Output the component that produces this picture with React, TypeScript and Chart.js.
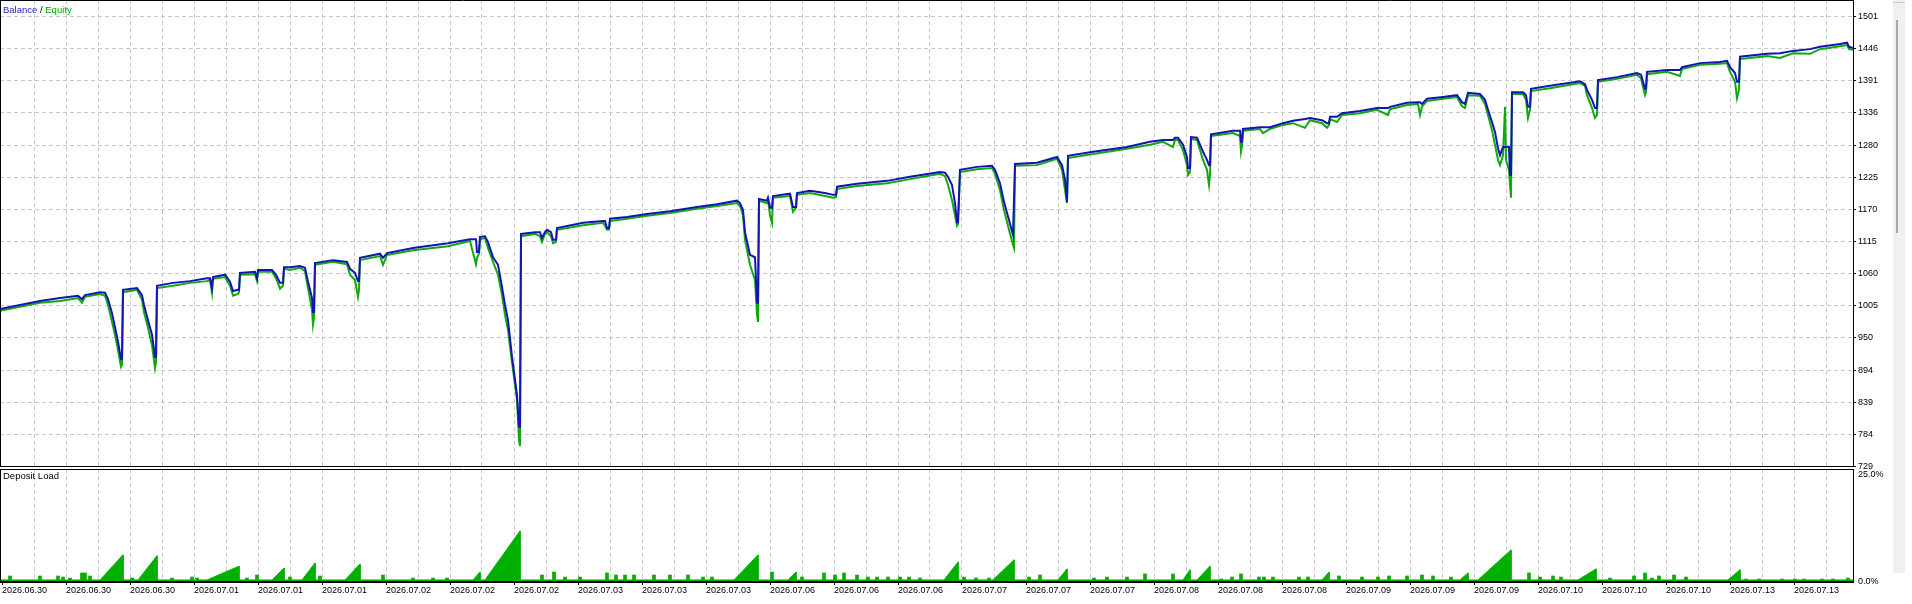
import React, { useEffect, useRef } from 'react';
import { Chart, registerables } from 'chart.js';

Chart.register(...registerables);

const FONT = '"Liberation Sans", Arial, sans-serif';
const BLUE = '#1414b4';
const GREEN = '#10aa10';
const LOAD_GREEN = '#00b000';
const GRID = '#c8c8c8';

// x axis: hours since start, one date label every 8 hours
const dateLabels = [
  '2026.06.30', '2026.06.30', '2026.06.30',
  '2026.07.01', '2026.07.01', '2026.07.01',
  '2026.07.02', '2026.07.02', '2026.07.02',
  '2026.07.03', '2026.07.03', '2026.07.03',
  '2026.07.06', '2026.07.06', '2026.07.06',
  '2026.07.07', '2026.07.07', '2026.07.07',
  '2026.07.08', '2026.07.08', '2026.07.08',
  '2026.07.09', '2026.07.09', '2026.07.09',
  '2026.07.10', '2026.07.10', '2026.07.10',
  '2026.07.13', '2026.07.13',
];
const HOURS_PER_LABEL = 8;

const yTickLabels = ['729', '784', '839', '894', '950', '1005', '1060', '1115', '1170', '1225', '1280', '1336', '1391', '1446', '1501'];
const loadTickValues = [0, 25];
const loadTickLabels = ['0.0%', '25.0%'];

const timeH = [
  -0.25, 2.25, 4.75, 7.25, 9.5, 10, 10.375, 12.25, 12.875, 13.25,
  13.75, 14.125, 14.5, 14.875, 15, 15.125, 16.875, 17.5, 17.75, 18.25,
  18.75, 19.125, 19.25, 19.375, 21.375, 23.5, 25.625, 26, 26.25, 26.375,
  27.875, 28.5, 28.875, 29.5, 29.625, 29.75, 31.625, 31.875, 32, 33.75,
  34.25, 34.75, 35.125, 35.25, 36, 37.25, 37.875, 38.25, 38.75, 38.875,
  39, 39.125, 41.375, 43.125, 43.5, 44.125, 44.5, 44.625, 44.75, 47.25,
  47.625, 48.125, 51.375, 55.75, 58.5, 59.25, 59.375, 59.625, 59.75, 60.375,
  60.75, 61.375, 62, 62.5, 62.875, 63.25, 63.75, 64.375, 64.625, 64.75,
  64.875, 66.625, 67.25, 67.5, 67.875, 68.125, 68.625, 68.875, 69.25, 69.375,
  72.625, 75.125, 75.375, 75.625, 75.875, 76, 78.125, 80.625, 83.5, 86.875,
  89.375, 91.875, 92.25, 92.625, 92.875, 93.5, 94.125, 94.375, 94.5, 94.625,
  95.625, 95.75, 96, 96.25, 96.375, 98.5, 98.875, 99.25, 99.375, 101,
  102.875, 103.875, 104.25, 104.375, 106.875, 110.625, 113.5, 117.25, 117.875, 118.25,
  118.75, 119.125, 119.375, 119.5, 119.75, 121.875, 123.75, 124.125, 124.75, 125.25,
  125.875, 126.375, 126.5, 126.625, 129.375, 131.875, 132.5, 132.875, 133.125, 133.25,
  136.375, 140.625, 143.5, 145.125, 146.375, 146.625, 147, 147.625, 148.125, 148.25,
  148.5, 148.625, 149.375, 149.75, 150.125, 150.625, 150.875, 151, 151.125, 153.875,
  154.75, 154.875, 155, 155.125, 157.25, 157.625, 158.5, 160.125, 161.375, 162.875,
  163.5, 165, 165.625, 165.875, 166, 166.875, 167.5, 169.75, 171.875, 173.25,
  173.5, 175.625, 177, 177.25, 177.5, 178.125, 180.125, 181.875, 182.5, 182.875,
  183.25, 184.75, 185.375, 185.75, 186.25, 186.625, 187, 187.25, 187.625, 187.875,
  188, 188.375, 188.5, 188.625, 188.75, 190.125, 190.5, 190.75, 191, 191.125,
  193.5, 197.25, 197.875, 198.125, 198.75, 199.125, 199.375, 199.5, 201.875, 204.375,
  204.875, 205.375, 205.5, 205.625, 208.125, 209.75, 210, 212.25, 214.75, 215.625,
  216, 216.625, 216.875, 217.125, 217.25, 220.625, 222.25, 223.875, 226, 227.25,
  229.75, 230.625, 230.875, 231.375,
];

const balance = [
  999, 1006, 1013, 1018, 1022, 1016, 1023, 1028, 1027, 1016,
  992, 968, 943, 913, 913, 1032, 1035, 1023, 1006, 980,
  955, 917, 917, 1039, 1044, 1047, 1052, 1052, 1035, 1054,
  1058, 1046, 1030, 1032, 1032, 1061, 1063, 1052, 1066, 1066,
  1058, 1044, 1044, 1071, 1071, 1073, 1070, 1046, 1018, 994,
  994, 1078, 1083, 1080, 1068, 1061, 1047, 1047, 1087, 1094,
  1087, 1095, 1104, 1112, 1119, 1119, 1097, 1097, 1123, 1124,
  1114, 1088, 1075, 1037, 1006, 980, 917, 852, 797, 797,
  1128, 1131, 1131, 1121, 1131, 1135, 1131, 1118, 1118, 1138,
  1147, 1150, 1150, 1138, 1138, 1154, 1157, 1162, 1167, 1174,
  1179, 1185, 1181, 1169, 1131, 1092, 1088, 1010, 1010, 1188,
  1185, 1190, 1173, 1173, 1193, 1197, 1174, 1174, 1198, 1202,
  1198, 1195, 1195, 1209, 1214, 1219, 1226, 1234, 1233, 1226,
  1212, 1181, 1148, 1148, 1238, 1243, 1245, 1238, 1215, 1183,
  1152, 1126, 1126, 1248, 1250, 1260, 1246, 1221, 1183, 1262,
  1269, 1277, 1286, 1289, 1289, 1293, 1293, 1281, 1260, 1241,
  1241, 1294, 1293, 1281, 1269, 1255, 1246, 1246, 1299, 1305,
  1305, 1286, 1286, 1308, 1311, 1311, 1311, 1318, 1322, 1325,
  1327, 1323, 1318, 1318, 1329, 1329, 1335, 1339, 1344, 1344,
  1346, 1353, 1354, 1354, 1351, 1360, 1363, 1366, 1354, 1351,
  1370, 1368, 1358, 1341, 1320, 1303, 1275, 1263, 1277, 1277,
  1277, 1277, 1229, 1229, 1371, 1371, 1366, 1346, 1346, 1377,
  1382, 1390, 1385, 1375, 1358, 1344, 1344, 1392, 1397, 1404,
  1401, 1377, 1377, 1406, 1409, 1409, 1414, 1421, 1423, 1425,
  1414, 1404, 1389, 1389, 1432, 1437, 1438, 1442, 1445, 1449,
  1454, 1456, 1449, 1447,
];

const equity = [
  996, 1003, 1010, 1013, 1018, 1010, 1020, 1025, 1022, 1006,
  977, 955, 929, 900, 903, 1028, 1032, 1015, 994, 967,
  937, 898, 908, 1035, 1039, 1044, 1047, 1049, 1027, 1051,
  1054, 1039, 1022, 1025, 1028, 1058, 1059, 1047, 1063, 1063,
  1052, 1034, 1039, 1068, 1066, 1070, 1064, 1035, 998, 972,
  984, 1075, 1080, 1076, 1058, 1049, 1020, 1032, 1083, 1090,
  1075, 1092, 1100, 1107, 1116, 1076, 1087, 1094, 1119, 1121,
  1104, 1080, 1058, 1023, 989, 963, 908, 843, 774, 764,
  1124, 1128, 1124, 1114, 1128, 1131, 1124, 1112, 1114, 1135,
  1143, 1147, 1142, 1135, 1135, 1150, 1154, 1159, 1164, 1171,
  1176, 1181, 1176, 1160, 1118, 1075, 1049, 989, 977, 1185,
  1181, 1186, 1160, 1147, 1190, 1193, 1166, 1173, 1195, 1198,
  1193, 1190, 1191, 1205, 1210, 1215, 1222, 1231, 1227, 1212,
  1186, 1160, 1142, 1145, 1234, 1239, 1241, 1231, 1203, 1169,
  1135, 1109, 1104, 1245, 1246, 1257, 1238, 1203, 1181, 1258,
  1265, 1274, 1281, 1286, 1277, 1289, 1289, 1272, 1246, 1229,
  1234, 1291, 1289, 1272, 1255, 1238, 1212, 1229, 1296, 1301,
  1296, 1269, 1279, 1305, 1308, 1301, 1308, 1315, 1318, 1310,
  1323, 1318, 1310, 1315, 1325, 1320, 1332, 1335, 1341, 1332,
  1342, 1349, 1351, 1332, 1347, 1356, 1360, 1363, 1347, 1344,
  1366, 1365, 1351, 1332, 1306, 1281, 1255, 1246, 1263, 1346,
  1255, 1238, 1212, 1190, 1368, 1368, 1358, 1327, 1341, 1373,
  1378, 1387, 1382, 1366, 1344, 1327, 1332, 1389, 1394, 1401,
  1395, 1366, 1371, 1402, 1406, 1399, 1411, 1418, 1420, 1421,
  1406, 1389, 1361, 1375, 1428, 1433, 1430, 1438, 1437, 1445,
  1450, 1452, 1445, 1444,
];

// deposit load: ramps while positions build up, plus short single bars
const rampTime = [
  -0.25,
  12.25, 15.125, 15.125,
  17, 19.375, 19.375,
  25.625, 29.625, 29.625,
  33.75, 35.25, 35.25,
  37.5, 39.125, 39.125,
  42.875, 44.75, 44.75,
  58.875, 59.75, 59.75,
  60.375, 64.75, 64.75,
  91.5, 94.5, 94.5,
  98.25, 99.25, 99.25,
  117.75, 119.5, 119.5,
  123.875, 126.5, 126.5,
  132, 133.125, 133.125,
  147.625, 148.5, 148.5,
  149.375, 151, 151,
  165, 165.875, 165.875,
  182.25, 183.25, 183.25,
  184.5, 188.625, 188.625,
  197, 199.25, 199.25,
  215.75, 217.25, 217.25,
  231.375,
];
const rampLoad = [
  0.45,
  0.45, 6.0, 0.45,
  0.45, 5.8, 0.45,
  0.45, 3.5, 0.45,
  0.45, 3.1, 0.45,
  0.45, 4.2, 0.45,
  0.45, 4.0, 0.45,
  0.45, 2.2, 0.45,
  0.45, 11.3, 0.45,
  0.45, 6.0, 0.45,
  0.45, 2.2, 0.45,
  0.45, 4.4, 0.45,
  0.45, 4.9, 0.45,
  0.45, 2.9, 0.45,
  0.45, 2.7, 0.45,
  0.45, 3.5, 0.45,
  0.45, 2.2, 0.45,
  0.45, 2.0, 0.45,
  0.45, 7.1, 0.45,
  0.45, 2.9, 0.45,
  0.45, 2.7, 0.45,
  0.45,
];

const spikeTime = [
  1, 4.75, 7, 7.625, 8.5, 10, 10.375, 11, 16.25, 21.25,
  23.75, 24.375, 30.625, 31.875, 36, 39.75, 47.625, 51.375, 53.875, 55.625,
  67.5, 69, 70.375, 72.25, 75.625, 76.75, 77.875, 79, 81.5, 83.5,
  85.75, 87.625, 88.75, 96.25, 100, 102.75, 104.125, 105.25, 106.875, 108.25,
  109.375, 110.75, 112.25, 113.375, 114.75, 120.25, 121.75, 123.375, 128.375, 129.75,
  136.5, 138.125, 140.625, 142.875, 146.375, 152.375, 153.75, 154.875, 157.125, 157.75,
  158.875, 162.125, 163.25, 167.125, 170, 172, 173.375, 175.625, 177.5, 178.875,
  181.125, 190.875, 192.25, 193.875, 194.875, 201, 204, 205.375, 206.25, 207.125,
  209, 210.5, 218, 219.625, 222.5, 224.125, 225.25, 227.5, 228.875, 230.75,
];
const spikeLoad = [
  1.33, 1.33, 1.33, 1.1, 0.88, 2.0, 2.0, 1.33, 0.88, 0.88,
  1.1, 0.88, 0.88, 1.55, 1.1, 1.33, 1.55, 0.88, 0.88, 0.88,
  1.55, 2.2, 1.1, 1.1, 2.0, 1.55, 1.55, 1.55, 1.55, 1.55,
  1.55, 1.1, 1.1, 2.2, 1.1, 2.0, 1.55, 2.0, 1.55, 1.1,
  1.1, 1.1, 1.1, 1.1, 0.88, 1.1, 0.88, 0.88, 1.1, 1.55,
  0.88, 1.1, 1.1, 1.77, 1.77, 0.66, 1.1, 1.77, 1.1, 1.1,
  1.1, 1.1, 1.1, 1.33, 1.1, 1.1, 1.33, 1.33, 1.55, 1.33,
  1.1, 2.0, 1.1, 1.33, 1.1, 0.88, 1.33, 2.0, 0.88, 1.33,
  1.55, 1.1, 0.66, 0.66, 0.66, 0.66, 0.66, 0.66, 0.66, 0.88,
];

const X_MIN = -0.25;
const X_MAX = 231.375;
const Y_MIN = 728.1;
const Y_MAX = 1529.3;
const LOAD_MAX = 25;
const AXIS_W = 59;

function xGridTicks() {
  const out: { value: number }[] = [];
  for (let v = 0; v <= X_MAX; v += HOURS_PER_LABEL / 2) out.push({ value: v });
  return out;
}

function makeFrame(bottomWidth: number) {
  return {
    id: 'frame' + bottomWidth,
    afterDraw(chart: any) {
      const { ctx } = chart;
      const { left, top, right, bottom } = chart.chartArea;
      ctx.save();
      ctx.strokeStyle = '#000';
      ctx.lineWidth = 1;
      ctx.setLineDash([]);
      ctx.beginPath();
      ctx.moveTo(left + 0.5, top);
      ctx.lineTo(left + 0.5, bottom);
      ctx.moveTo(right + 0.5, top);
      ctx.lineTo(right + 0.5, bottom);
      ctx.moveTo(left, top + 0.5);
      ctx.lineTo(right + 1, top + 0.5);
      ctx.stroke();
      ctx.lineWidth = bottomWidth;
      ctx.beginPath();
      const by = bottomWidth === 2 ? bottom : bottom - 0.5;
      ctx.moveTo(left, by);
      ctx.lineTo(right + 1, by);
      ctx.stroke();
      ctx.restore();
    },
  };
}

const loadLabelPlugin = {
  id: 'loadLabels',
  afterDraw(chart: any) {
    const { ctx, chartArea } = chart;
    const sc = chart.scales.y;
    ctx.save();
    ctx.font = `9px ${FONT}`;
    ctx.fillStyle = '#000';
    ctx.textAlign = 'left';
    ctx.textBaseline = 'middle';
    loadTickValues.forEach((v, i) => {
      const py = Math.max(sc.getPixelForValue(v), chartArea.top + 6);
      ctx.fillText(loadTickLabels[i], chartArea.right + 5, py);
    });
    ctx.restore();
  },
};

const noPad = (s: any) => {
  s.paddingLeft = 0;
  s.paddingRight = 0;
  s.paddingTop = 0;
  s.paddingBottom = 0;
};

export default function App() {
  const mainRef = useRef<HTMLCanvasElement | null>(null);
  const loadRef = useRef<HTMLCanvasElement | null>(null);

  useEffect(() => {
    const tickFont = { family: FONT, size: 9 };
    const xGridColor = (ctx: any) => (ctx.tick && ctx.tick.value === 0 ? 'rgba(0,0,0,0)' : GRID);

    const main = new Chart(mainRef.current as HTMLCanvasElement, {
      type: 'line',
      data: {
        datasets: [
          {
            label: 'Balance',
            data: timeH.map((t, i) => ({ x: t, y: balance[i] })),
            borderColor: BLUE,
            borderWidth: 2,
            pointRadius: 0,
            tension: 0,
            fill: false,
          },
          {
            label: 'Equity',
            data: timeH.map((t, i) => ({ x: t, y: equity[i] })),
            borderColor: GREEN,
            borderWidth: 2,
            pointRadius: 0,
            tension: 0,
            fill: false,
          },
        ],
      },
      options: {
        animation: false,
        responsive: false,
        devicePixelRatio: 1,
        events: [],
        layout: { padding: { left: 0, top: 0, right: 0, bottom: 3 }, autoPadding: false },
        plugins: { legend: { display: false }, tooltip: { enabled: false } },
        scales: {
          x: {
            type: 'linear',
            min: X_MIN,
            max: X_MAX,
            afterBuildTicks: (s: any) => { s.ticks = xGridTicks(); },
            afterFit: (s: any) => { s.height = 0; noPad(s); },
            ticks: { display: false },
            grid: { color: xGridColor, drawTicks: false, lineWidth: 1 },
            border: { display: false, dash: [4, 3] },
          },
          y: {
            type: 'linear',
            position: 'right',
            min: Y_MIN,
            max: Y_MAX,
            afterBuildTicks: (s: any) => { s.ticks = yTickLabels.map((l) => ({ value: Number(l) })); },
            afterFit: (s: any) => { s.width = AXIS_W; noPad(s); },
            ticks: {
              callback: (_v: any, i: number) => yTickLabels[i],
              font: tickFont,
              color: '#000',
              padding: 2,
              autoSkip: false,
            },
            grid: { color: GRID, tickColor: '#000', tickLength: 3, tickBorderDash: [1, 0], lineWidth: 1 },
            border: { display: false, dash: [4, 3] },
          },
        },
      } as any,
      plugins: [makeFrame(1)],
    });

    const load = new Chart(loadRef.current as HTMLCanvasElement, {
      type: 'line',
      data: {
        datasets: [
          {
            type: 'bar',
            label: 'Deposit Load',
            data: spikeTime.map((t, i) => ({ x: t, y: spikeLoad[i] })),
            backgroundColor: LOAD_GREEN,
            borderWidth: 0,
            barThickness: 3,
            grouped: false,
          } as any,
          {
            type: 'line',
            label: 'Deposit Load ramps',
            data: rampTime.map((t, i) => ({ x: t, y: rampLoad[i] })),
            borderColor: LOAD_GREEN,
            backgroundColor: LOAD_GREEN,
            borderWidth: 1,
            pointRadius: 0,
            tension: 0,
            fill: 'origin',
          },
        ],
      },
      options: {
        animation: false,
        responsive: false,
        devicePixelRatio: 1,
        events: [],
        layout: { padding: { left: 0, top: 1, right: 0, bottom: 0 }, autoPadding: false },
        plugins: { legend: { display: false }, tooltip: { enabled: false } },
        scales: {
          x: {
            type: 'linear',
            min: X_MIN,
            max: X_MAX,
            offset: false,
            afterBuildTicks: (s: any) => { s.ticks = xGridTicks(); },
            afterFit: (s: any) => { s.height = 22; noPad(s); },
            ticks: {
              callback: (v: any) => (v % HOURS_PER_LABEL === 0 ? dateLabels[v / HOURS_PER_LABEL] : ''),
              align: 'start',
              maxRotation: 0,
              minRotation: 0,
              autoSkip: false,
              font: tickFont,
              color: '#000',
              padding: 0,
            },
            grid: {
              color: xGridColor,
              tickColor: (ctx: any) => (ctx.tick && ctx.tick.value % HOURS_PER_LABEL === 0 ? '#000' : 'rgba(0,0,0,0)'),
              tickLength: 3,
              tickBorderDash: [1, 0],
              offset: false,
              lineWidth: 1,
            },
            border: { display: false, dash: [4, 3] },
          },
          y: {
            type: 'linear',
            position: 'right',
            min: 0,
            max: LOAD_MAX,
            afterFit: (s: any) => { s.width = AXIS_W; noPad(s); },
            ticks: { display: false },
            grid: { display: false },
            border: { display: false },
          },
        },
      } as any,
      plugins: [makeFrame(2), loadLabelPlugin],
    });

    return () => {
      main.destroy();
      load.destroy();
    };
  }, []);

  return (
    <div style={{ position: 'fixed', left: 0, top: 0, width: 1912, height: 604, background: '#fff', overflow: 'hidden' }}>
      <canvas ref={mainRef} width={1912} height={470} style={{ position: 'absolute', left: 0, top: 0, width: 1912, height: 470 }} />
      <canvas ref={loadRef} width={1912} height={136} style={{ position: 'absolute', left: 0, top: 468, width: 1912, height: 136 }} />
      <div style={{ position: 'absolute', left: 3, top: 4, font: `9.5px ${FONT}`, lineHeight: '12px', whiteSpace: 'nowrap' }}>
        <span style={{ color: '#1c1cc8' }}>Balance</span>
        <span style={{ color: '#000' }}> / </span>
        <span style={{ color: '#00a800' }}>Equity</span>
      </div>
      <div style={{ position: 'absolute', left: 3, top: 470, font: `9.5px ${FONT}`, lineHeight: '12px', color: '#000', whiteSpace: 'nowrap' }}>
        Deposit Load
      </div>
      <div style={{ position: 'absolute', left: 1893, top: 0, width: 12, height: 573, background: '#f0f0f0' }} />
      <div style={{ position: 'absolute', left: 1893, top: 2, width: 12, height: 1, background: '#c8c8c8' }} />
      <div style={{ position: 'absolute', left: 1896, top: 20, width: 2, height: 213, background: '#a8a8a8' }} />
    </div>
  );
}
